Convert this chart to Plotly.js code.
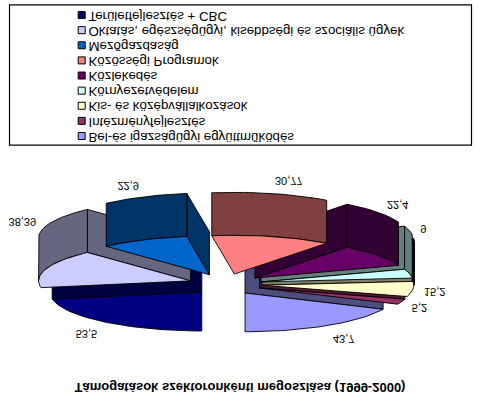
<!DOCTYPE html>
<html>
<head>
<meta charset="utf-8">
<script src="https://cdn.plot.ly/plotly-3.0.1.min.js"></script>
<style>
html,body{margin:0;padding:0;background:#fff;overflow:hidden}
#chart{width:485px;height:406px;transform:scaleY(-1);transform-origin:50% 50%}
</style>
</head>
<body>
<div id="chart"></div>
<script>
var categories = ["Bel-és igazságügyi együttműködés","Intézményfejlesztés","Kis- és középvállalkozások","Környezetvédelem","Közlekedés","Közösségi Programok","Mezőgazdaság","Oktatás, egészségügyi, kisebbségi és szociális ügyek","Területfejlesztés + CBC"];
var values = [43.7,5.2,15.2,9,22.4,30.77,22.9,38.39,53.5];
var colors = ["#9999FF","#993366","#FFFFCC","#CCFFFF","#660066","#FF8080","#0066CC","#CCCCFF","#000080"];
var titleText = "Támogatások szektoronkénti megoszlása (1999-2000)";

// projection of the exploded 3D pie
var cx=225.3, cy=284.2, a=152, b=38.7, ex=36.6, ey=10.5, depth=43;
var rad=Math.PI/180, total=values.reduce(function(s,v){return s+v;},0);

function half(hex){
  var n=parseInt(hex.slice(1),16);
  return "rgb("+[(n>>16)&255,(n>>8)&255,n&255].map(function(c){return Math.round(c/2);}).join(",")+")";
}
function poly(xs,ys,fill,w){
  return {type:"scatter",mode:"lines",x:xs.concat([xs[0]]),y:ys.concat([ys[0]]),fill:"toself",fillcolor:fill,
    line:{color:"#000",width:w||0.9},hoverinfo:"skip",showlegend:false};
}
var slices=[], cum=0;
values.forEach(function(v,i){
  var t0=cum/total*360; cum+=v; var t1=cum/total*360, mid=(t0+t1)/2;
  slices.push({i:i,t0:t0,t1:t1,mid:mid,
    ax:cx+ex*Math.sin(mid*rad), ay:cy+ey*Math.cos(mid*rad)});
});
function px(s,t){return s.ax+a*Math.sin(t*rad);}
function py(s,t){return s.ay+b*Math.cos(t*rad);}
function arc(s,t0,t1){
  var ts=[],n=Math.max(2,Math.ceil((t1-t0)/2));
  for(var k=0;k<=n;k++) ts.push(t0+(t1-t0)*k/n);
  return ts;
}
var order=slices.slice().sort(function(p,q){return Math.abs(q.mid-180)-Math.abs(p.mid-180);});
var traces=[];
order.forEach(function(s){
  var wall=half(colors[s.i]);
  if(Math.sin(s.t0*rad)<0) traces.push(poly([s.ax,s.ax,px(s,s.t0),px(s,s.t0)],[s.ay,s.ay-depth,py(s,s.t0)-depth,py(s,s.t0)],wall));
  if(Math.sin(s.t1*rad)>0) traces.push(poly([s.ax,s.ax,px(s,s.t1),px(s,s.t1)],[s.ay,s.ay-depth,py(s,s.t1)-depth,py(s,s.t1)],wall));
  var r0=Math.max(s.t0,90), r1=Math.min(s.t1,270);
  if(r1>r0){
    var ts=arc(s,r0,r1), xs=[], ys=[];
    ts.forEach(function(t){xs.push(px(s,t));ys.push(py(s,t));});
    ts.slice().reverse().forEach(function(t){xs.push(px(s,t));ys.push(py(s,t)-depth);});
    // the rim turning away at the far right edge renders as a black band
    var thin=(r1-r0<8);
    traces.push(poly(xs,ys,thin?"#000":wall,thin?2.5:0.9));
  }
  var tx=[s.ax], ty=[s.ay];
  arc(s,s.t0,s.t1).forEach(function(t){tx.push(px(s,t));ty.push(py(s,t));});
  traces.push(poly(tx,ty,colors[s.i]));
});

// value labels, anchored on the side facing away from the pie
var lx=[],ly=[],lt=[],lp=[];
slices.forEach(function(s){
  var front=(s.mid>90&&s.mid<270)?depth:0, sn=Math.sin(s.mid*rad), cs=Math.cos(s.mid*rad);
  lx.push(px(s,s.mid)+11*sn);
  ly.push(py(s,s.mid)-front+14*cs);
  lt.push(String(values[s.i]).replace(".",","));
  lp.push(sn>=0?"middle right":"middle left");
});
traces.push({type:"scatter",mode:"text",x:lx,y:ly,text:lt,textposition:lp,
  textfont:{family:"Liberation Sans, Arial, sans-serif",size:11,color:"#000"},hoverinfo:"skip",showlegend:false});

// legend, read from the bottom row of the box
var legendY=categories.map(function(c,i){return 136-i*15.12;});
traces.push({type:"scatter",mode:"markers",x:categories.map(function(){return 81.7;}),y:legendY,
  marker:{symbol:"square",size:7,color:colors,line:{color:"#000",width:1}},hoverinfo:"skip",showlegend:false});
traces.push({type:"scatter",mode:"text",x:categories.map(function(){return 88.5;}),y:legendY,text:categories,
  textposition:"middle right",
  textfont:{family:"Liberation Sans, Arial, sans-serif",size:13.3,color:"#000"},hoverinfo:"skip",showlegend:false});

var layout={width:485,height:406,margin:{l:0,r:0,t:0,b:0},paper_bgcolor:"#fff",plot_bgcolor:"#fff",showlegend:false,
  xaxis:{range:[0,485],visible:false,fixedrange:true},
  yaxis:{range:[0,406],visible:false,fixedrange:true},
  title:{text:"<b>"+titleText+"</b>",x:240/485,xanchor:"center",y:1-18/406,yanchor:"middle",xref:"paper",yref:"paper",
    font:{family:"Liberation Sans, Arial, sans-serif",size:13,color:"#000"}},
  shapes:[{type:"rect",xref:"x",yref:"y",x0:9.5,x1:471.5,y0:4.8,y1:145.2,line:{color:"#000",width:1.2},fillcolor:"rgba(0,0,0,0)"}]
};
Plotly.newPlot("chart",traces,layout,{staticPlot:true,displayModeBar:false});
</script>
</body>
</html>
